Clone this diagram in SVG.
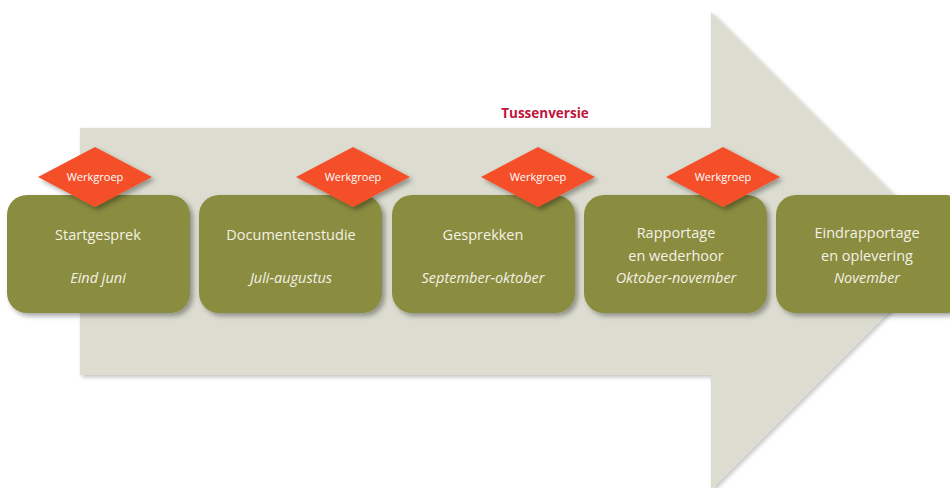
<svg xmlns="http://www.w3.org/2000/svg" width="950" height="488" viewBox="0 0 950 488">
<defs>
<filter id="sh" x="-20%" y="-20%" width="150%" height="150%">
<feDropShadow dx="3" dy="3" stdDeviation="2.5" flood-color="#000" flood-opacity="0.35"/>
</filter>
<filter id="ash" x="-10%" y="-10%" width="130%" height="130%">
<feDropShadow dx="2" dy="2" stdDeviation="2" flood-color="#000" flood-opacity="0.25"/>
</filter>
<style>
.box{fill:#8a8c40;filter:url(#sh)}
.dia{fill:#f5502a;filter:url(#sh)}
.t{font-family:"Open Sans","Noto Sans",sans-serif;font-size:14.5px;fill:#f3f2e4;text-anchor:middle}
.i{font-style:italic}
.w{font-family:"Open Sans","Noto Sans",sans-serif;font-size:11px;fill:#ffffff;text-anchor:middle}
</style>
</defs>
<rect width="950" height="488" fill="#ffffff"/>
<g id="arrow">
<polygon points="80,128 711,128 711,12 950,251 711,490 711,375 80,375" fill="#dcddd0" filter="url(#ash)"/>
</g>
<text x="545" y="118" font-family="'Open Sans','Noto Sans',sans-serif" font-size="13.5" font-weight="bold" fill="#c0163b" text-anchor="middle">Tussenversie</text>
<g id="connectors"></g>
<g id="n1">
<rect class="box" x="7" y="195" width="183" height="118" rx="20"/>
<text class="t" x="98" y="240">Startgesprek</text>
<text class="t i" x="98" y="283">Eind juni</text>
</g>
<g id="n2">
<rect class="box" x="199" y="195" width="183" height="118" rx="20"/>
<text class="t" x="291" y="240">Documentenstudie</text>
<text class="t i" x="291" y="283">Juli-augustus</text>
</g>
<g id="n3">
<rect class="box" x="392" y="195" width="183" height="118" rx="20"/>
<text class="t" x="483" y="240">Gesprekken</text>
<text class="t i" x="483" y="283">September-oktober</text>
</g>
<g id="n4">
<rect class="box" x="584" y="195" width="183" height="118" rx="20"/>
<text class="t" x="676" y="238">Rapportage</text>
<text class="t" x="676" y="261">en wederhoor</text>
<text class="t i" x="676" y="283">Oktober-november</text>
</g>
<g id="n5">
<rect class="box" x="776" y="195" width="190" height="118" rx="20"/>
<text class="t" x="867" y="238">Eindrapportage</text>
<text class="t" x="867" y="261">en oplevering</text>
<text class="t i" x="867" y="283">November</text>
</g>
<g id="d1">
<polygon class="dia" points="95,147 152,177 95,207 38,177"/>
<text class="w" x="95" y="181">Werkgroep</text>
</g>
<g id="d2">
<polygon class="dia" points="353,147 410,177 353,207 296,177"/>
<text class="w" x="353" y="181">Werkgroep</text>
</g>
<g id="d3">
<polygon class="dia" points="538,147 595,177 538,207 481,177"/>
<text class="w" x="538" y="181">Werkgroep</text>
</g>
<g id="d4">
<polygon class="dia" points="723,147 780,177 723,207 666,177"/>
<text class="w" x="723" y="181">Werkgroep</text>
</g>
</svg>
